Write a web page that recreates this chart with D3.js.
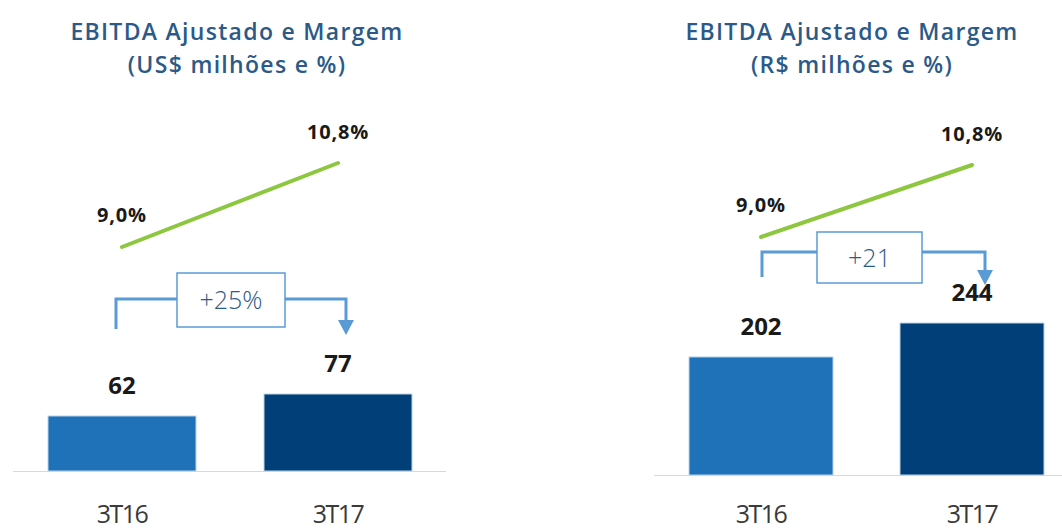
<!DOCTYPE html>
<html>
<head>
<meta charset="utf-8">
<script src="https://cdn.jsdelivr.net/npm/d3@7"></script>
<style>
  body { margin: 0; background: #fff; }
  svg { display: block; }
</style>
</head>
<body>
<div id="chart"></div>
<script>
// data
var categories = ["3T16", "3T17"];
var ebitdaUsd = [62, 77];
var ebitdaBrl = [202, 244];
var margem = [9.0, 10.8];
var margemLabels = ["9,0%", "10,8%"];
var growthUsd = "+25%";
var growthBrl = "+21";
var titlesUsd = ["EBITDA Ajustado e Margem", "(US$ milhões e %)"];
var titlesBrl = ["EBITDA Ajustado e Margem", "(R$ milhões e %)"];

var W = 1062, H = 530;
var svg = d3.select("#chart").append("svg")
  .attr("width", W)
  .attr("height", H);

var barColors = ["#1f71b8", "#003f77"];

// one panel per currency
var panels = [
  {
    titles: titlesUsd, values: ebitdaUsd, growth: growthUsd,
    titleX: 237,
    xRange: [122, 338], barW: 148,
    yDomain: [24.5, 77], yRange: [471, 394],
    lineRange: [247, 163],
    baseLine: [13, 446],
    brk: { y: 299, left: -6, right: 8, leftDrop: 30, tip: 335, boxX: [177, 285], boxY: [273, 327] }
  },
  {
    titles: titlesBrl, values: ebitdaBrl, growth: growthBrl,
    titleX: 852,
    xRange: [761, 972], barW: 144,
    yDomain: [56, 244], yRange: [475, 323],
    lineRange: [237, 165],
    baseLine: [654, 1062],
    brk: { y: 252, left: 1, right: 13, leftDrop: 25, tip: 285, boxX: [817, 922], boxY: [232, 283] }
  }
];

panels.forEach(function(p) {
  var g = svg.append("g");

  var x = d3.scalePoint().domain(categories).range(p.xRange);
  var y = d3.scaleLinear().domain(p.yDomain).range(p.yRange);
  var yLine = d3.scaleLinear().domain([margem[0], margem[1]]).range(p.lineRange);

  // title
  g.selectAll(".title")
    .data(p.titles)
    .enter().append("text")
    .attr("x", p.titleX)
    .attr("y", function(d, i) { return 40 + i * 33; })
    .attr("text-anchor", "middle")
    .style("font-family", "'Open Sans', sans-serif")
    .style("font-weight", 600)
    .style("font-size", "23px")
    .style("letter-spacing", "1.3px")
    .style("fill", "#2b5a88")
    .text(function(d) { return d; });

  // base line
  g.append("line")
    .attr("x1", p.baseLine[0]).attr("x2", p.baseLine[1])
    .attr("y1", p.yRange[0] + 0.5).attr("y2", p.yRange[0] + 0.5)
    .attr("stroke", "#d9d9d9")
    .attr("stroke-width", 1);

  // bars
  g.selectAll(".bar")
    .data(p.values)
    .enter().append("rect")
    .attr("x", function(d, i) { return x(categories[i]) - p.barW / 2; })
    .attr("y", function(d) { return y(d); })
    .attr("width", p.barW)
    .attr("height", function(d) { return y(p.yDomain[0]) - y(d); })
    .attr("fill", function(d, i) { return barColors[i]; })
    .attr("stroke", "#bcd6ee")
    .attr("stroke-width", 1);

  // bar values
  g.selectAll(".val")
    .data(p.values)
    .enter().append("text")
    .attr("x", function(d, i) { return x(categories[i]); })
    .attr("y", function(d) { return y(d) - 22; })
    .attr("text-anchor", "middle")
    .style("font-family", "'Open Sans', sans-serif")
    .style("font-weight", "bold")
    .style("font-size", "24px")
    .style("fill", "#1a1a1a")
    .text(function(d) { return d; });

  // category labels
  g.selectAll(".cat")
    .data(categories)
    .enter().append("text")
    .attr("x", function(d) { return x(d); })
    .attr("y", 523)
    .attr("text-anchor", "middle")
    .style("font-family", "'Open Sans', sans-serif")
    .style("font-size", "25px")
    .style("letter-spacing", "-1.5px")
    .style("fill", "#3a3a3a")
    .text(function(d) { return d; });

  // margin line
  var line = d3.line()
    .x(function(d, i) { return x(categories[i]); })
    .y(function(d) { return yLine(d); });

  g.append("path")
    .datum(margem)
    .attr("d", line)
    .attr("fill", "none")
    .attr("stroke", "#8dc63f")
    .attr("stroke-width", 4)
    .attr("stroke-linecap", "round");

  g.selectAll(".mlab")
    .data(margem)
    .enter().append("text")
    .attr("x", function(d, i) { return x(categories[i]); })
    .attr("y", function(d, i) { return yLine(d) - (i == 0 ? 25 : 24); })
    .attr("text-anchor", "middle")
    .style("font-family", "'Open Sans', sans-serif")
    .style("font-weight", "bold")
    .style("font-size", "20px")
    .style("letter-spacing", "0.8px")
    .style("fill", "#1a1a1a")
    .text(function(d, i) { return margemLabels[i]; });

  // growth bracket
  var b = p.brk;
  var xl = x(categories[0]) + b.left;
  var xr = x(categories[1]) + b.right;
  g.append("path")
    .attr("d", "M" + xl + "," + (b.y + b.leftDrop) + "V" + b.y + "H" + b.boxX[0] +
               "M" + b.boxX[1] + "," + b.y + "H" + xr + "V" + (b.tip - 14))
    .attr("fill", "none")
    .attr("stroke", "#5b9bd5")
    .attr("stroke-width", 3);

  g.append("path")
    .attr("d", "M" + (xr - 8) + "," + (b.tip - 15) + "L" + (xr + 8) + "," + (b.tip - 15) + "L" + xr + "," + b.tip + "Z")
    .attr("fill", "#5b9bd5");

  g.append("rect")
    .attr("x", b.boxX[0]).attr("y", b.boxY[0])
    .attr("width", b.boxX[1] - b.boxX[0])
    .attr("height", b.boxY[1] - b.boxY[0])
    .attr("fill", "#fff")
    .attr("stroke", "#5b9bd5")
    .attr("stroke-width", 1.5);

  g.append("text")
    .attr("x", (b.boxX[0] + b.boxX[1]) / 2)
    .attr("y", (b.boxY[0] + b.boxY[1]) / 2 + 9)
    .attr("text-anchor", "middle")
    .style("font-family", "'Open Sans', sans-serif")
    .style("font-weight", 300)
    .style("font-size", "25px")
    .style("fill", "#2b5a88")
    .text(p.growth);
});
</script>
</body>
</html>
